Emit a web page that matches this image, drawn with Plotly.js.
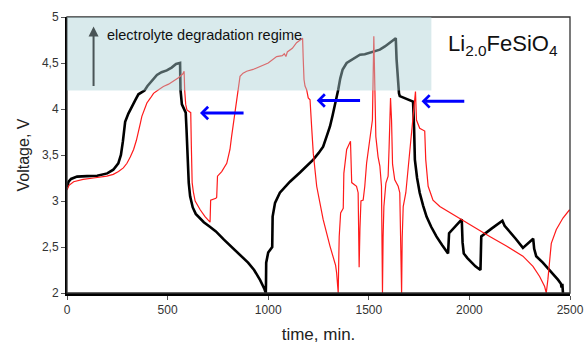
<!DOCTYPE html>
<html>
<head>
<meta charset="utf-8">
<script src="https://cdn.plot.ly/plotly-3.0.1.min.js"></script>
<style>html,body{margin:0;padding:0;background:#fff;}#chart{width:584px;height:345px;}</style>
</head>
<body>
<div id="chart"></div>
<script>
// Black curve (Li2.0FeSiO4, first run)
const timeBlack = [0,8,20,50,100,150,200,230,255,268,278,289,305,320,340,355,370,385,400,425,447,470,496,520,542,562,564,571,580,590,594,600,605,612,625,640,660,680,710,740,780,820,860,900,930,960,980,988,
989,990,1000,1015,1020,1022,1034,1058,1108,1158,1224,1250,1273,1290,1307,1320,1331,1348,1358,1370,1390,1422,1456,1480,1505,1530,1555,1580,1604,1634,1638,1644,1650,1654,1690,1720,1725,1729,1740,1753,1770,1787,1810,1836,1865,1894,1899,1962,1966,1972,1990,2010,2030,2055,2059,2110,2164,2175,2192,2230,2266,2317,2322,2332,2365,2399,2420,2440,2455,2458,2462,2465];
const voltBlack = [3.15,3.21,3.24,3.265,3.27,3.275,3.30,3.34,3.41,3.50,3.65,3.86,3.95,4.02,4.10,4.16,4.18,4.20,4.25,4.31,4.37,4.40,4.42,4.45,4.49,4.50,4.21,4.05,4.00,3.96,3.78,3.40,3.20,3.05,2.93,2.86,2.81,2.77,2.72,2.67,2.58,2.50,2.42,2.33,2.25,2.14,2.05,2.00,
2.10,2.33,2.44,2.48,2.50,2.83,2.98,3.09,3.21,3.31,3.45,3.52,3.59,3.70,3.81,3.93,4.03,4.21,4.33,4.43,4.50,4.54,4.59,4.595,4.61,4.625,4.645,4.68,4.72,4.77,4.54,4.30,4.17,4.14,4.11,4.08,3.80,3.45,3.25,3.09,2.95,2.83,2.72,2.615,2.52,2.43,2.65,2.80,2.55,2.43,2.38,2.33,2.29,2.25,2.615,2.70,2.785,2.73,2.69,2.59,2.49,2.59,2.48,2.40,2.33,2.25,2.20,2.145,2.10,2.06,2.10,2.00];

// Red curve
const timeRed = [0,10,33,80,132,198,230,256,280,298,315,331,345,355,365,372,385,397,415,430,455,479,505,529,554,575,582,585,590,596,606,615,618,622,628,637,662,686,711,714,740,744,748,769,794,810,818,827,836,844,852,860,875,893,925,959,1000,1042,1070,1080,1088,1095,1120,1141,1160,1171,1174,1178,1183,1191,1199,1208,1216,1224,1241,1273,1307,1323,1335,1340,1348,
1351,1353,1360,1373,1376,1390,1409,1413,1415,1439,1447,1450,1452,1456,1461,1472,1480,1489,1505,1518,1525,1528,1530,1535,1546,1555,1563,1566,1568,1571,1575,1585,1596,1601,1608,1613,1618,1629,1646,1654,1659,1663,1666,1671,1684,1695,1704,1720,1732,1737,1753,1778,1783,1795,1819,1853,1935,2018,2101,2184,2266,2316,2349,2374,2382,2390,2399,2407,2432,2465,2498];
const voltRed = [3.12,3.17,3.21,3.235,3.25,3.27,3.29,3.32,3.36,3.41,3.48,3.56,3.66,3.74,3.85,3.92,4.00,4.065,4.12,4.17,4.21,4.245,4.27,4.30,4.34,4.38,4.41,4.20,4.05,3.99,3.97,3.96,3.60,3.20,3.10,3.00,2.905,2.83,2.77,3.01,3.03,3.04,3.27,3.32,3.41,3.56,3.70,3.85,4.00,4.14,4.28,4.355,4.39,4.41,4.43,4.46,4.50,4.57,4.58,4.60,4.57,4.62,4.66,4.72,4.75,4.77,4.55,4.32,4.25,4.21,4.12,4.10,3.80,3.52,3.16,2.80,2.51,2.40,2.30,2.22,2.00,
2.40,2.615,2.87,2.92,3.30,3.56,3.65,3.40,3.20,3.16,3.09,2.60,2.28,2.70,3.00,3.01,3.16,3.41,3.70,3.88,4.79,4.40,4.25,3.70,3.48,3.38,3.16,2.60,2.00,2.60,2.94,3.195,3.27,3.59,4.12,3.88,3.40,3.23,3.16,3.09,2.60,2.00,2.60,2.94,3.09,3.34,3.59,3.88,4.19,3.88,3.79,3.76,3.45,3.16,3.01,2.94,2.83,2.72,2.615,2.51,2.40,2.29,2.18,2.07,2.00,2.145,2.36,2.54,2.69,2.815,2.905];

const xTickVals = [0,500,1000,1500,2000,2500];
const xTickText = ['0','500','1000','1500','2000','2500'];
const yTickVals = [2,2.5,3,3.5,4,4.5,5];
const yTickText = ['2','2,5','3','3,5','4','4,5','5'];

const FONT = 'Arial, "Liberation Sans", sans-serif';

const traces = [
  {x: timeBlack, y: voltBlack, type: 'scatter', mode: 'lines', line: {color: '#000000', width: 2.6}, hoverinfo: 'skip'},
  {x: timeRed, y: voltRed, type: 'scatter', mode: 'lines', line: {color: '#ff1a1a', width: 1.2}, hoverinfo: 'skip'}
];

const blueArrow = (x, y, ax) => ({x: x, y: y, ax: ax, ay: y, xref: 'x', yref: 'y', axref: 'x', ayref: 'y', text: '', showarrow: true, arrowhead: 4, arrowsize: 0.8, arrowwidth: 3, arrowcolor: '#0000ff'});

const layout = {
  width: 584, height: 345,
  margin: {l: 67, r: 14, t: 17, b: 52},
  paper_bgcolor: '#ffffff', plot_bgcolor: '#ffffff',
  font: {family: FONT, color: '#222'},
  showlegend: false,
  xaxis: {
    range: [0, 2500], tickvals: xTickVals, ticktext: xTickText,
    showgrid: false, zeroline: false, showline: true, linecolor: '#000', linewidth: 2.5,
    ticks: 'outside', ticklen: 4, tickcolor: '#555', tickwidth: 1,
    tickfont: {family: FONT, size: 12, color: '#333'},
    title: {text: 'time, min.', font: {family: FONT, size: 17, color: '#222'}, standoff: 12}
  },
  yaxis: {
    range: [2, 5], tickvals: yTickVals, ticktext: yTickText,
    showgrid: false, zeroline: false, showline: true, linecolor: '#000', linewidth: 2,
    ticks: 'outside', ticklen: 4, tickcolor: '#555', tickwidth: 1,
    tickfont: {family: FONT, size: 12, color: '#333'},
    title: {text: 'Voltage, V', font: {family: FONT, size: 16, color: '#222'}, standoff: 8}
  },
  shapes: [
    {type: 'rect', xref: 'paper', yref: 'paper', x0: 0, x1: 1, y0: 0, y1: 1, line: {color: '#333', width: 1.3}, fillcolor: 'rgba(0,0,0,0)', layer: 'above'},
    {type: 'rect', xref: 'x', yref: 'y', x0: 0, x1: 1811, y0: 4.2, y1: 5, line: {width: 0}, fillcolor: 'rgb(170,208,213)', opacity: 0.45, layer: 'above'}
  ],
  annotations: [
    {x: 190, y: 4.80, xref: 'x', yref: 'y', xanchor: 'left', yanchor: 'middle', text: 'electrolyte degradation regime', showarrow: false, font: {family: FONT, size: 14.5, color: '#111'}},
    {x: 2448, y: 4.70, xref: 'x', yref: 'y', xanchor: 'right', yanchor: 'middle', text: 'Li<sub>2.0</sub>FeSiO<sub>4</sub>', showarrow: false, font: {family: FONT, size: 22, color: '#111'}},
    {x: 132, y: 4.898, ax: 132, ay: 4.235, xref: 'x', yref: 'y', axref: 'x', ayref: 'y', text: '', showarrow: true, arrowhead: 2, arrowsize: 1, arrowwidth: 2, arrowcolor: '#4a5456'},
    blueArrow(661, 3.957, 885),
    blueArrow(1241, 4.093, 1464),
    blueArrow(1762, 4.083, 1982)
  ]
};

Plotly.newPlot('chart', traces, layout, {staticPlot: true, displayModeBar: false});
</script>
</body>
</html>
